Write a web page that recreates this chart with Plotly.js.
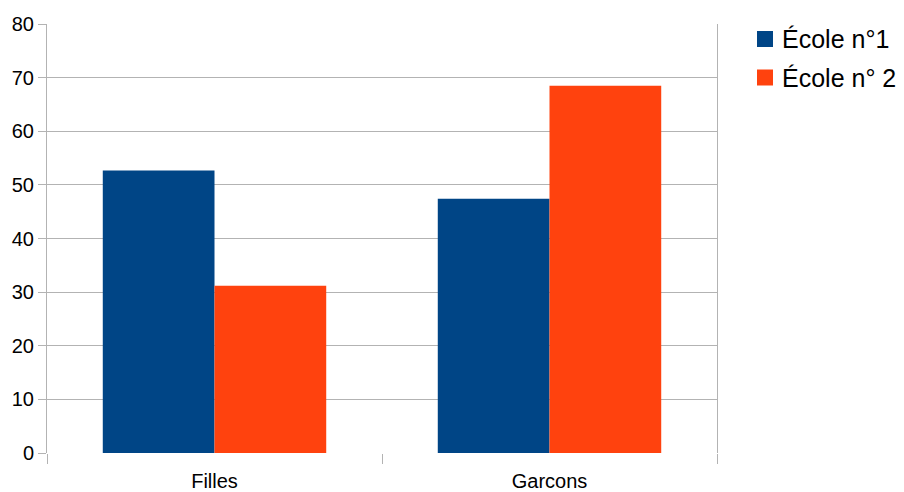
<!DOCTYPE html>
<html>
<head>
<meta charset="utf-8">
<script src="https://cdn.plot.ly/plotly-3.0.1.min.js"></script>
<style>html,body{margin:0;padding:0;background:#fff;}#chart{width:904px;height:492px;}</style>
</head>
<body>
<div id="chart"></div>
<script>
const categories = ["Filles", "Garcons"];
const seriesNames = ["École n°1", "École n° 2"];
const ecole1 = [52.7, 47.4];
const ecole2 = [31.2, 68.5];
const colors = ["#004586", "#ff420e"];
const yTicks = [0, 10, 20, 30, 40, 50, 60, 70, 80];

const values = [ecole1, ecole2];
const traces = values.map((v, i) => ({
  type: "bar", x: categories, y: v, name: seriesNames[i],
  marker: {color: colors[i], line: {width: 0}},
  showlegend: false, hoverinfo: "x+y"
}));

// Custom legend (paper coordinates; plot area is 670 x 429 px)
const W = 670, H = 429;
const legendX = (757 - 47) / W, legendSq = 16;
const rowCenters = [39, 77.5];
const shapes = [], annotations = [];
seriesNames.forEach((name, i) => {
  const cy = (453 - rowCenters[i]) / H;
  shapes.push({
    type: "rect", xref: "paper", yref: "paper",
    x0: legendX, x1: legendX + legendSq / W,
    y0: cy - (legendSq / 2) / H, y1: cy + (legendSq / 2) / H,
    fillcolor: colors[i], line: {width: 0}
  });
  annotations.push({
    xref: "paper", yref: "paper", x: (780 - 47) / W, y: cy,
    xanchor: "left", yanchor: "middle", showarrow: false,
    text: name, font: {size: 25, color: "#000000"}
  });
});

const layout = {
  width: 904, height: 492,
  margin: {l: 47, r: 187, t: 24, b: 39},
  paper_bgcolor: "#ffffff", plot_bgcolor: "#ffffff",
  font: {family: "Liberation Sans, Arial, sans-serif", color: "#000000", size: 20},
  barmode: "group", bargap: 0.333, bargroupgap: 0,
  xaxis: {
    type: "category", tickson: "boundaries", ticks: "outside", ticklen: 10,
    tickcolor: "#b3b3b3", tickwidth: 1, showgrid: false,
    showline: false, zeroline: false, ticklabelstandoff: 14,
    tickfont: {size: 20}, fixedrange: true
  },
  yaxis: {
    range: [0, 80], tickvals: yTicks, ticktext: yTicks.map(String),
    ticks: "outside", ticklen: 8, tickcolor: "#b3b3b3", tickwidth: 1,
    showgrid: true, gridcolor: "#b3b3b3", gridwidth: 1,
    showline: true, linecolor: "#b3b3b3", linewidth: 1, mirror: true,
    zeroline: false, tickfont: {size: 20}, fixedrange: true
  },
  showlegend: false,
  shapes: shapes,
  annotations: annotations
};

Plotly.newPlot("chart", traces, layout, {displayModeBar: false, staticPlot: true});
</script>
</body>
</html>
